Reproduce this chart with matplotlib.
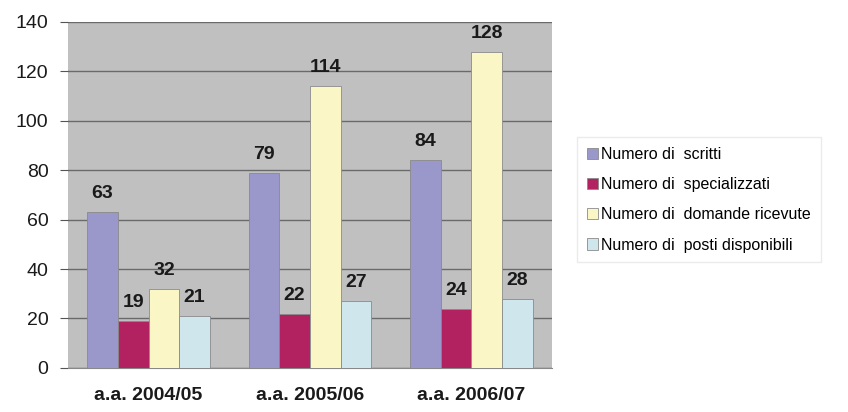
import numpy as np
import matplotlib.pyplot as plt

plt.rcParams['font.family'] = ['Liberation Sans', 'DejaVu Sans']

years = ['a.a. 2004/05', 'a.a. 2005/06', 'a.a. 2006/07']
series = ['Numero di  scritti', 'Numero di  specializzati',
          'Numero di  domande ricevute', 'Numero di  posti disponibili']
iscritti = [63, 79, 84]
specializzati = [19, 22, 24]
domande = [32, 114, 128]
posti = [21, 27, 28]
colors = ['#9a98cb', '#b32260', '#fbf6c6', '#cfe7ec']

values = [iscritti, specializzati, domande, posti]

fig = plt.figure(figsize=[8.48, 4.12], dpi=100)
ax = fig.add_axes([0.080, 0.107, 0.571, 0.840])
ax.set_facecolor('#c0c0c0')

x = np.arange(len(years))
w = 0.19
for i, vals in enumerate(values):
    pos = x + (i - 1.5) * w
    bars = ax.bar(pos, vals, w, color=colors[i], edgecolor='#8a8a8a',
                  linewidth=0.6, label=series[i], zorder=3)
    for b, v in zip(bars, vals):
        ax.text(b.get_x() + b.get_width() / 2, v + 4, str(v), ha='center',
                va='bottom', fontsize=14, fontweight='bold', color='#1a1a1a')

ax.set_ylim(0, 140)
ax.set_xlim(-0.5, 2.5)
ax.set_yticks(range(0, 141, 20))
ax.yaxis.grid(True, color='#6a6a6a', linewidth=1.0, zorder=1)
ax.set_axisbelow(True)
ax.set_xticks(x)
ax.set_xticklabels(years, fontsize=14, fontweight='bold', color='#1a1a1a')
ax.tick_params(axis='x', length=0, pad=14)
ax.tick_params(axis='y', labelsize=14, colors='#555555', length=6,
               labelcolor='#1a1a1a', pad=8)
for s in ['top', 'right', 'left']:
    ax.spines[s].set_visible(False)
ax.spines['bottom'].set_color('#888888')

fig.legend(loc='center left', bbox_to_anchor=(0.681, 0.515), fontsize=11.5,
           frameon=True, edgecolor='#e6e6e6', fancybox=False,
           handlelength=0.7, handleheight=0.7, handletextpad=0.2,
           labelspacing=0.95, borderpad=0.6, borderaxespad=0)

fig.savefig('out.png', dpi=100)
